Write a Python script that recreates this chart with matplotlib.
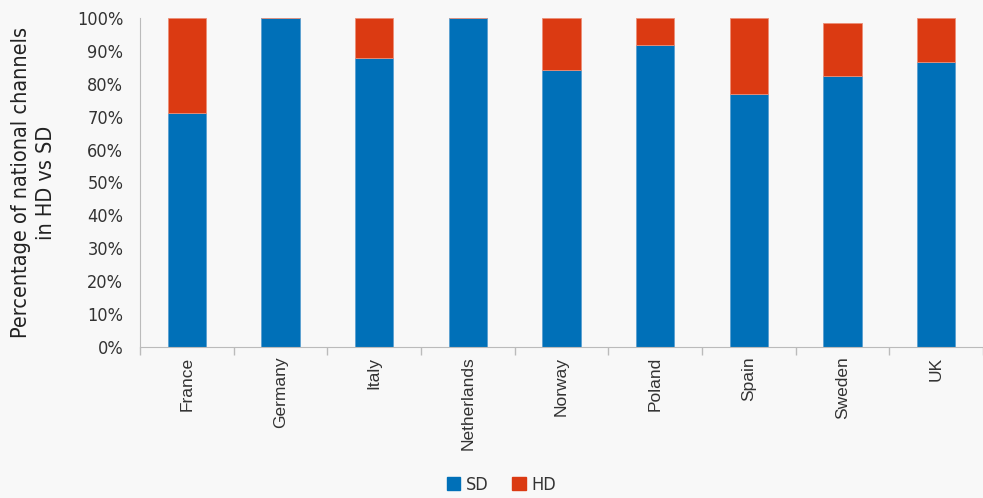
import matplotlib
matplotlib.use('Agg')
from matplotlib import pyplot as plt
from matplotlib.patches import Patch
import numpy as np

countries = ['France', 'Germany', 'Italy', 'Netherlands', 'Norway',
             'Poland', 'Spain', 'Sweden', 'UK']
sd = [71.0, 100.0, 87.7, 100.0, 84.1, 91.7, 76.9, 82.3, 86.5]
hd = [29.0, 0.0, 12.3, 0.0, 15.9, 8.3, 23.1, 16.1, 13.5]

blue = '#0070b8'
red = '#db3a12'
bg = '#f8f8f8'
narrow = dict(family='DejaVu Sans', stretch='condensed')

fig = plt.figure(figsize=(9.83, 4.98), dpi=100, facecolor=bg)
ax = fig.add_axes([0.1424, 0.3032, 0.8576, 0.6607], facecolor=bg)

x = np.arange(len(countries))
ax.bar(x, sd, width=0.41, color=blue, edgecolor='#5a9fd0', linewidth=0.6)
ax.bar(x, hd, width=0.41, bottom=sd, color=red, edgecolor='#ec8f78', linewidth=0.6)

ax.set_xlim(-0.5, len(countries) - 0.5)
ax.set_ylim(0, 100)
ax.set_yticks(np.arange(0, 101, 10))
ax.set_yticklabels([f'{v}%' for v in range(0, 101, 10)], fontsize=13,
                   color='#333333', **narrow)
ax.tick_params(axis='y', length=0, pad=12)

ax.set_xticks(x)
ax.set_xticklabels(countries, rotation=90, fontsize=12.5, color='#333333',
                   fontfamily=['Liberation Sans', 'DejaVu Sans'])
ax.set_xticks(np.arange(-0.5, len(countries)), minor=True)
ax.tick_params(axis='x', which='major', length=0, pad=7)
ax.tick_params(axis='x', which='minor', length=6, color='#bbbbbb', width=1)

for s in ['top', 'right']:
    ax.spines[s].set_visible(False)
ax.spines['left'].set_color('#bbbbbb')
ax.spines['bottom'].set_color('#bbbbbb')

ax.set_ylabel('Percentage of national channels\nin HD vs SD', fontsize=15.5,
              color='#222222', labelpad=15, linespacing=1.3, **narrow)

handles = [Patch(color=blue, label='SD'), Patch(color=red, label='HD')]
fig.legend(handles=handles, loc='center', bbox_to_anchor=(0.51, 0.026), ncol=2,
           frameon=False, prop={'family': 'DejaVu Sans', 'stretch': 'condensed', 'size': 13},
           handlelength=0.75, handleheight=0.75, handletextpad=0.3,
           columnspacing=1.3, labelcolor='#333333')

plt.savefig('out.png', dpi=100, facecolor=bg)
